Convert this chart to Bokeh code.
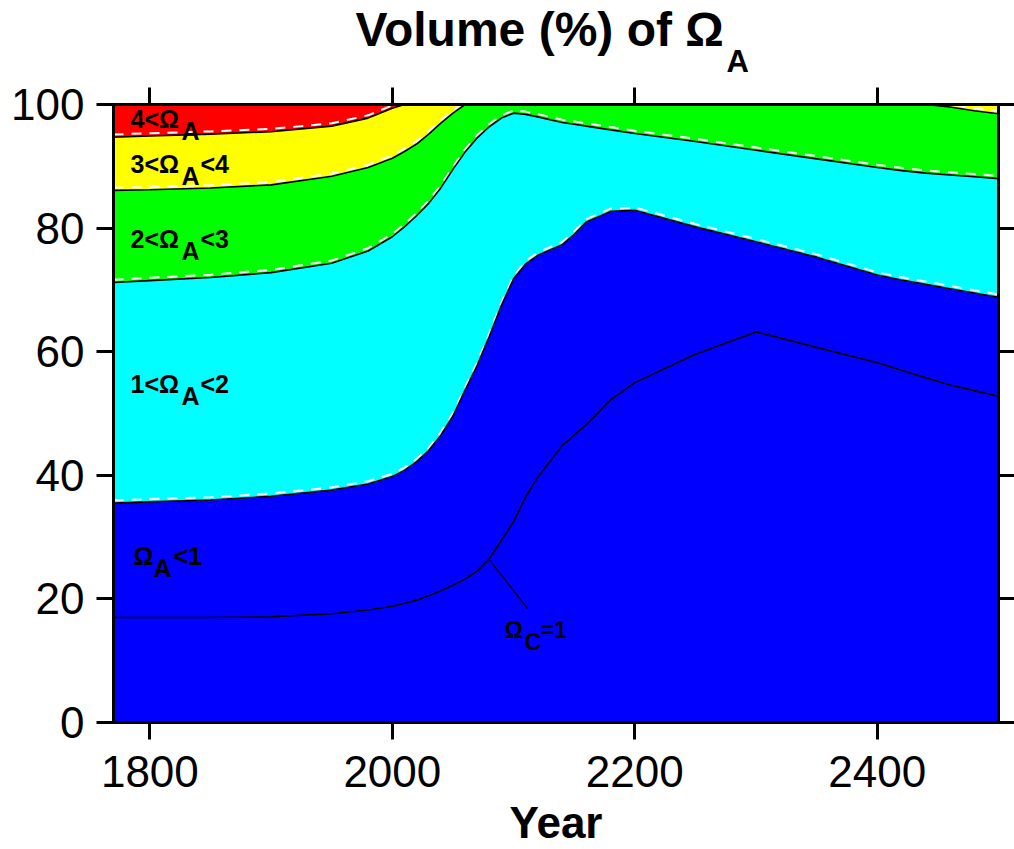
from bokeh.plotting import figure
from bokeh.models import FixedTicker, LinearAxis, Title, CustomJSTickFormatter, Range1d
from bokeh.core.properties import value
from bokeh.embed import file_html
from bokeh.resources import INLINE

# ---------------- data ----------------
YEARS = [1770, 1800, 1850, 1900, 1950, 1980, 2000, 2010, 2020, 2030, 2040, 2050,
         2060, 2070, 2080, 2090, 2100, 2110, 2120, 2140, 2150, 2160, 2180, 2200,
         2250, 2300, 2350, 2400, 2420, 2440, 2460, 2480, 2500]

# volume (%) below the Omega_A = 1 surface (blue region top)
OMEGA_A1 = [35.5, 35.7, 36.0, 36.6, 37.6, 38.6, 39.8, 40.8, 42.2, 44.0, 46.5, 49.6,
            53.8, 57.8, 62.5, 67.5, 71.8, 74.2, 75.6, 77.3, 79.0, 81.0, 82.7, 82.9,
            80.2, 77.8, 75.3, 72.4, 71.6, 70.9, 70.2, 69.5, 68.8]
# cumulative volume below Omega_A = 2
OMEGA_A2 = [71.2, 71.5, 72.0, 72.8, 74.3, 76.3, 78.6, 80.2, 82.0, 84.0, 86.5, 89.5,
            92.3, 94.6, 96.4, 97.8, 98.6, 98.4, 98.0, 97.1, 96.8, 96.5, 95.9, 95.3,
            94.0, 92.6, 91.2, 89.8, 89.3, 88.9, 88.6, 88.3, 88.0]
# cumulative volume below Omega_A = 3
OMEGA_A3 = [86.1, 86.2, 86.5, 87.0, 88.4, 89.8, 91.3, 92.4, 93.6, 95.2, 97.0, 98.6,
            100.0, 100.0, 100.0, 100.0, 100.0, 100.0, 100.0, 100.0, 100.0, 100.0, 100.0, 100.0,
            100.0, 100.0, 100.0, 100.0, 100.0, 100.0, 99.6, 99.0, 98.5]
# cumulative volume below Omega_A = 4
OMEGA_A4 = [94.7, 94.9, 95.2, 95.6, 96.5, 97.8, 99.4, 100.0, 100.0, 100.0, 100.0, 100.0,
            100.0, 100.0, 100.0, 100.0, 100.0, 100.0, 100.0, 100.0, 100.0, 100.0, 100.0, 100.0,
            100.0, 100.0, 100.0, 100.0, 100.0, 100.0, 100.0, 100.0, 100.0]
# volume below the Omega_C = 1 surface
OMEGA_C1 = [17.0, 17.0, 17.0, 17.1, 17.6, 18.2, 18.8, 19.3, 19.8, 20.5, 21.3, 22.2,
            23.2, 24.5, 26.5, 29.5, 32.5, 36.5, 39.7, 44.8, 46.5, 48.2, 52.2, 55.0,
            59.6, 63.2, 60.7, 58.2, 57.0, 55.8, 54.6, 53.7, 52.8]

# leader line of the Omega_C = 1 annotation
LEADER_X = [2080.6, 2111.7]
LEADER_Y = [26.2, 18.4]

X_TICKS = [1800, 2000, 2200, 2400]
Y_TICKS = [0, 20, 40, 60, 80, 100]

BAND_COLORS = ["#0000FF", "#00FFFF", "#00FF00", "#FFFF00", "#FF0000"]

# region labels: (main, subscript, tail)
REGION_LABELS = [("4<Ω", "A", ""), ("3<Ω", "A", "<4"), ("2<Ω", "A", "<3"),
                 ("1<Ω", "A", "<2"), ("Ω", "A", "<1")]
REGION_X = [1784.0, 1784.0, 1784.0, 1784.0, 1786.5]
REGION_Y = [97.6, 90.4, 78.3, 54.8, 27.0]

TITLE_MAIN = "Volume (%) of Ω"
TITLE_SUB = "A"

FONT = "Liberation Sans"

# ---------------- figure ----------------
p = figure(width=1014, height=849, output_backend="svg", toolbar_location=None,
           x_range=Range1d(1770, 2500), y_range=Range1d(0, 100),
           min_border_left=113, min_border_right=16, min_border_top=104,
           min_border_bottom=127)
p.xgrid.visible = False
p.ygrid.visible = False
p.outline_line_color = "black"
p.outline_line_width = 3
p.background_fill_color = "white"
p.border_fill_color = "white"

p.add_layout(LinearAxis(), "above")
p.add_layout(LinearAxis(), "right")

for ax in p.xaxis:
    ax.ticker = FixedTicker(ticks=X_TICKS)
for ax in p.yaxis:
    ax.ticker = FixedTicker(ticks=Y_TICKS)

for ax in p.xaxis + p.yaxis:
    ax.axis_line_width = 3
    ax.axis_line_color = "black"
    ax.major_tick_line_width = 3
    ax.major_tick_line_color = "black"
    ax.major_tick_out = 17
    ax.major_tick_in = 0
    ax.minor_tick_line_color = None
    ax.major_label_text_font = FONT
    ax.major_label_text_font_size = "44px"
    ax.major_label_text_color = "black"

p.below[0].major_label_standoff = 16
p.left[0].major_label_standoff = 12
p.below[0].axis_label = "Year"
p.below[0].axis_label_text_font = FONT
p.below[0].axis_label_text_font_size = "44px"
p.below[0].axis_label_text_font_style = "bold"
p.below[0].axis_label_text_color = "black"
p.below[0].axis_label_standoff = 8

blank = CustomJSTickFormatter(code="return '';")
for ax in (p.above[0], p.right[0]):
    ax.formatter = blank
    ax.major_label_standoff = 0
    ax.major_label_text_font_size = "1px"
p.right[0].major_tick_out = 16

# ---------------- title: subscript row next to the axis, main text above it ----------------
p.add_layout(Title(text=TITLE_SUB, align="left", offset=613, standoff=14,
                   vertical_align="top",
                   text_font=FONT, text_font_size="31px", text_font_style="bold",
                   text_color="black"), "above")
p.title.text = TITLE_MAIN
p.title.align = "left"
p.title.offset = 242
p.title.standoff = -38
p.title.vertical_align = "bottom"
p.title.text_font = FONT
p.title.text_font_size = "48px"
p.title.text_font_style = "bold"
p.title.text_color = "black"

# ---------------- bands ----------------
TOP = [100.0] * len(YEARS)
ZERO = [0.0] * len(YEARS)
bounds = [ZERO, OMEGA_A1, OMEGA_A2, OMEGA_A3, OMEGA_A4, TOP]
for i, col in enumerate(BAND_COLORS):
    p.varea(x=YEARS, y1=bounds[i], y2=bounds[i + 1], fill_color=col)

# contour lines: black solid with a white dashed companion just above
for b in [OMEGA_A1, OMEGA_A2, OMEGA_A3, OMEGA_A4]:
    p.line(YEARS, [v + 0.45 for v in b], line_color="white", line_width=2,
           line_dash="10 8")
    p.line(YEARS, b, line_color="black", line_width=1.6)

p.line(YEARS, OMEGA_C1, line_color="black", line_width=1.6)
p.line(LEADER_X, LEADER_Y, line_color="black", line_width=1.2)

# ---------------- region labels ----------------
tx, ty, tt, txo, tyo = [], [], [], [], []
for (main, sub, tail), x, y in zip(REGION_LABELS, REGION_X, REGION_Y):
    sub_off = 20 if main == "Ω" else 51
    tail_off = 40 if main == "Ω" else 70
    tx += [x, x]; ty += [y, y]; tt += [main, sub]; txo += [0, sub_off]; tyo += [0, 12]
    if tail:
        tx.append(x); ty.append(y); tt.append(tail); txo.append(tail_off); tyo.append(0)
p.text(x=tx, y=ty, text=tt, x_offset=txo, y_offset=tyo,
       text_font=value(FONT), text_font_style="bold", text_font_size="25px",
       text_color="black", text_align="left", text_baseline="alphabetic")

# Omega_C = 1 label
p.text(x=[2092.5, 2092.5, 2092.5], y=[14.9, 14.9, 14.9], text=["Ω", "C", "=1"],
       x_offset=[0, 20, 36], y_offset=[0, 12, 0],
       text_font=value(FONT), text_font_style="bold", text_font_size="23px",
       text_color="black", text_align="left", text_baseline="alphabetic")

open("out.html", "w").write(file_html(p, INLINE))
